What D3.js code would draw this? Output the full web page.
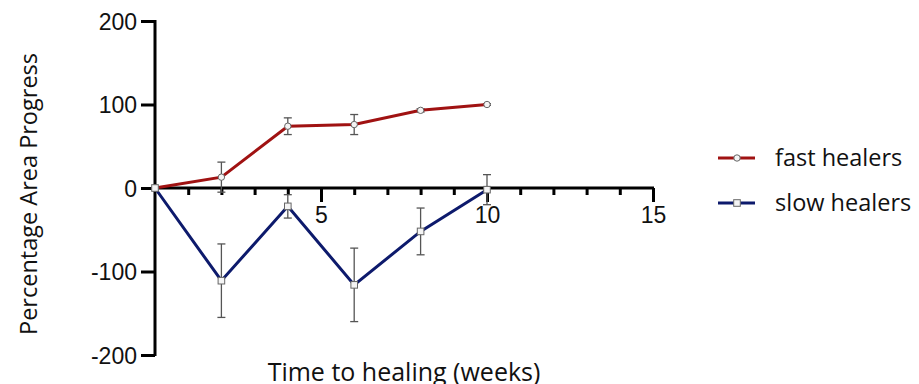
<!DOCTYPE html>
<html>
<head>
<meta charset="utf-8">
<script src="https://cdn.jsdelivr.net/npm/d3@7"></script>
<style>
  body { margin: 0; background: #fff; }
  svg { font-family: "Open Sans", sans-serif; }
</style>
</head>
<body>
<svg id="chart" width="919" height="384"></svg>
<script>
// weeks of measurement
var weeks = [0, 2, 4, 6, 8, 10];
// fast healers mean and error
var fastMean = [0, 13, 74, 76, 93, 100];
var fastErr = [0, 18, 10, 12, 2, 1];
// slow healers mean and error
var slowMean = [0, -111, -22, -116, -52, -2];
var slowErr = [0, 44, 14, 44, 28, 18];
var xTicks = [5, 10, 15];
var yTicks = [-200, -100, 0, 100, 200];

var svg = d3.select("#chart");
var x = d3.scaleLinear().domain([0, 15]).range([155, 653]);
var y = d3.scaleLinear().domain([-200, 200]).range([355, 21]);

var series = [
    {name: "fast healers", mean: fastMean, err: fastErr, color: "#a01212", shape: "circle"},
    {name: "slow healers", mean: slowMean, err: slowErr, color: "#0d1a6c", shape: "square"}
];

// y axis
var yAxis = svg.append("g").attr("transform", "translate(" + x(0) + ",0)")
    .call(d3.axisLeft(y).tickValues(yTicks).tickSize(14).tickPadding(4)
        .tickFormat(function(d) { return String(d); }));
yAxis.select(".domain").attr("stroke-width", 3).attr("d", "M0," + (y(200) - 1) + "V" + (y(-200) + 1));
yAxis.selectAll("line").attr("stroke-width", 3);
yAxis.selectAll("text").style("font-size", "23px").attr("fill", "#111").attr("dy", "0.36em");

// x axis (minor ticks)
var xMinor = svg.append("g").attr("transform", "translate(0," + y(0) + ")")
    .call(d3.axisBottom(x).tickValues(d3.range(1, 16)).tickSize(7).tickFormat(""));
xMinor.select(".domain").remove();
xMinor.selectAll("line").attr("stroke-width", 3);

var xAxis = svg.append("g").attr("transform", "translate(0," + y(0) + ")")
    .call(d3.axisBottom(x).tickValues(xTicks).tickSize(14).tickPadding(5));
xAxis.select(".domain").attr("stroke-width", 3).attr("d", "M" + x(0) + ",0H" + (x(15) + 1));
xAxis.selectAll("line").attr("stroke-width", 3);
xAxis.selectAll("text").style("font-size", "23px").attr("fill", "#111");

// error bars
series.forEach(function(s) {
    var g = svg.append("g").attr("stroke", "#555").attr("stroke-width", 1.3).attr("fill", "none");
    weeks.forEach(function(w, i) {
        if (s.err[i] <= 0) return;
        var top = y(s.mean[i] + s.err[i]), bot = y(s.mean[i] - s.err[i]);
        g.append("line").attr("x1", x(w)).attr("x2", x(w)).attr("y1", top).attr("y2", bot);
        g.append("line").attr("x1", x(w) - 4).attr("x2", x(w) + 4).attr("y1", top).attr("y2", top);
        g.append("line").attr("x1", x(w) - 4).attr("x2", x(w) + 4).attr("y1", bot).attr("y2", bot);
    });
});

// lines and markers
var line = d3.line().x(function(d) { return x(d[0]); }).y(function(d) { return y(d[1]); });
series.forEach(function(s) {
    var pts = weeks.map(function(w, i) { return [w, s.mean[i]]; });
    svg.append("path").datum(pts).attr("d", line)
        .attr("fill", "none").attr("stroke", s.color).attr("stroke-width", 3);
    pts.forEach(function(p) {
        drawMarker(svg, s.shape, x(p[0]), y(p[1]));
    });
});

function drawMarker(g, shape, cx, cy) {
    if (shape === "circle") {
        g.append("circle").attr("cx", cx).attr("cy", cy).attr("r", 3.2)
            .attr("fill", "#f4f4f4").attr("stroke", "#666").attr("stroke-width", 1);
    } else {
        g.append("rect").attr("x", cx - 3.3).attr("y", cy - 3.3).attr("width", 6.6).attr("height", 6.6)
            .attr("fill", "#f4f4f4").attr("stroke", "#666").attr("stroke-width", 1);
    }
}

// legend
series.forEach(function(s, i) {
    var ly = 158 + i * 45;
    svg.append("line").attr("x1", 718).attr("x2", 755).attr("y1", ly).attr("y2", ly)
        .attr("stroke", s.color).attr("stroke-width", 3);
    drawMarker(svg, s.shape, 737, ly);
    svg.append("text").attr("x", 775).attr("y", ly + 8).text(s.name)
        .style("font-size", "23.5px").attr("fill", "#111");
});

// axis titles
svg.append("text").attr("x", 404).attr("y", 381).attr("text-anchor", "middle")
    .text("Time to healing (weeks)").style("font-size", "25px").attr("fill", "#111");
svg.append("text").attr("transform", "translate(37,194) rotate(-90)").attr("text-anchor", "middle")
    .text("Percentage Area Progress").style("font-size", "23.5px").attr("fill", "#111");
</script>
</body>
</html>
